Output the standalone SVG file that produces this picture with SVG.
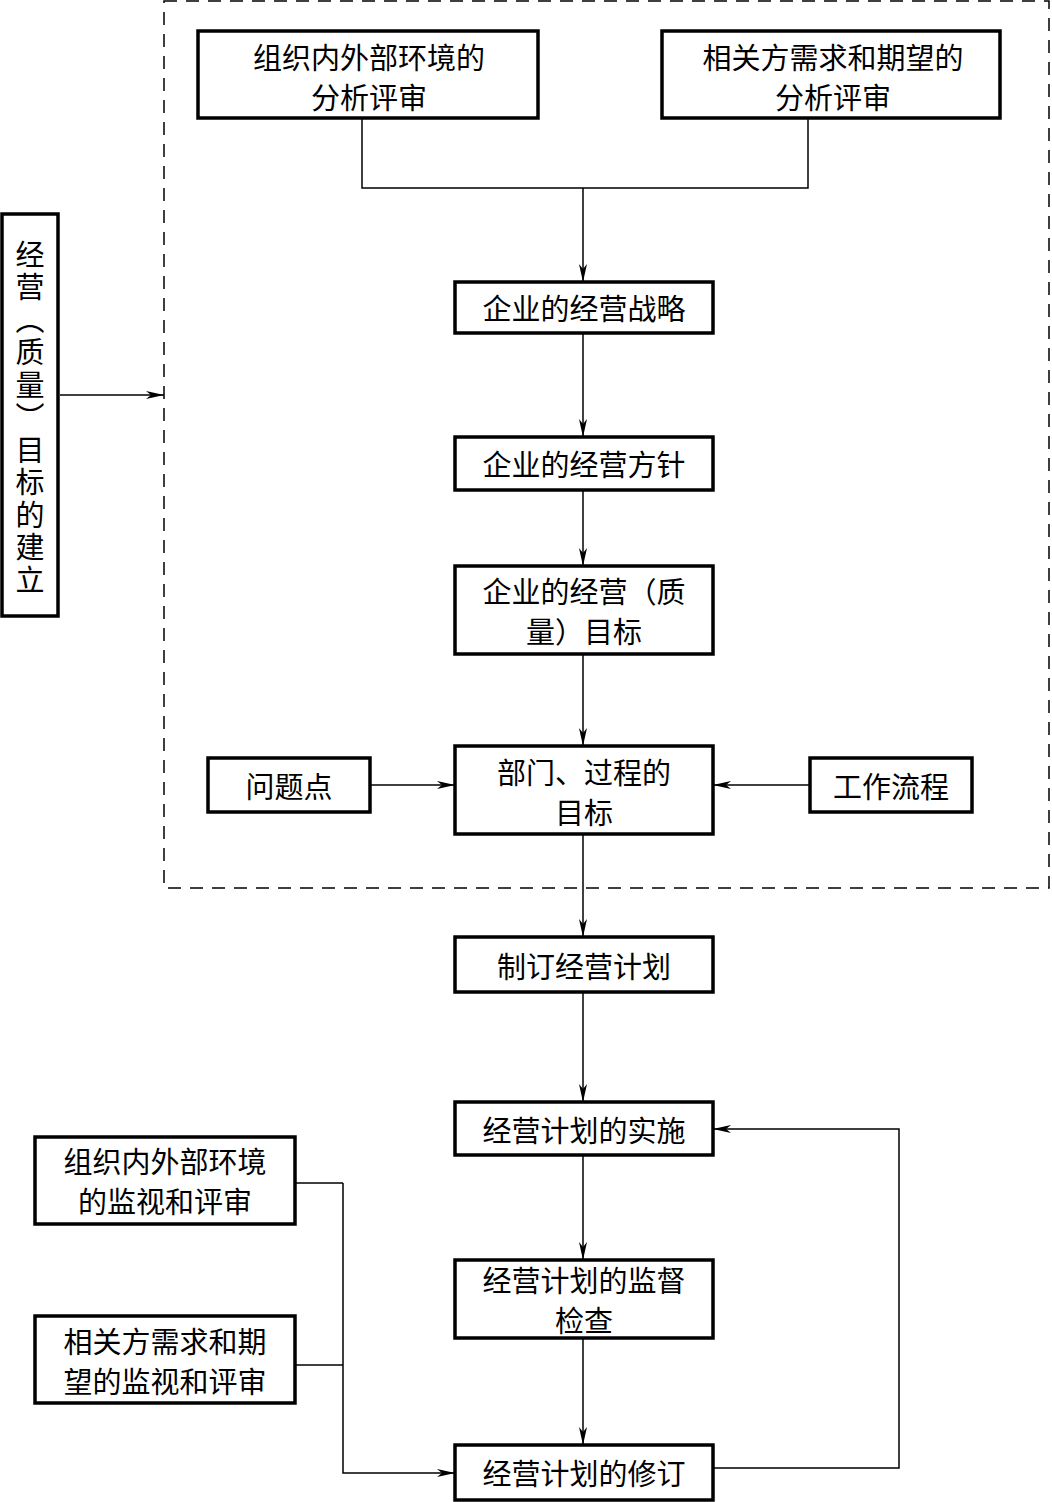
<svg xmlns="http://www.w3.org/2000/svg" width="1052" height="1502" viewBox="0 0 1052 1502">
<style>
.box{fill:#fff;stroke:#000;stroke-width:3.5}
.t{font-family:"Noto Sans CJK SC","Noto Sans CJK JP",sans-serif;font-size:29px;fill:#000;text-anchor:middle;dominant-baseline:central}
.ln{fill:none;stroke:#000;stroke-width:1.5}
.arr{marker-end:url(#ah)}
.dash{fill:none;stroke:#000;stroke-width:1.5;stroke-dasharray:13 9}
</style>
<defs>
<marker id="ah" markerUnits="userSpaceOnUse" markerWidth="20" markerHeight="10" refX="18" refY="5" orient="auto" viewBox="0 0 20 10">
<path d="M18,5 L0,1 L5,5 L0,9 Z" fill="#000"/>
</marker>
</defs>
<rect width="1052" height="1502" fill="#fff"/>
<rect class="dash" x="164" y="1" width="885" height="887"/>
<g id="connectors">
<path class="ln" d="M362,118 V188 H808 V118"/>
<path class="ln arr" d="M583,188 V282"/>
<path class="ln arr" d="M583,333 V437"/>
<path class="ln arr" d="M583,490 V566"/>
<path class="ln arr" d="M583,654 V746"/>
<path class="ln arr" d="M583,834 V937"/>
<path class="ln arr" d="M583,992 V1102"/>
<path class="ln arr" d="M583,1155 V1260"/>
<path class="ln arr" d="M583,1338 V1445"/>
<path class="ln arr" d="M370,785 H455"/>
<path class="ln arr" d="M810,785 H713"/>
<path class="ln arr" d="M60,395 H164"/>
<path class="ln" d="M295,1183 H343"/>
<path class="ln" d="M295,1365 H343"/>
<path class="ln arr" d="M343,1183 V1473 H455"/>
<path class="ln arr" d="M713,1468 H899 V1129 H713"/>
</g>
<g id="n-left">
<rect class="box" x="2" y="214" width="56" height="402"/>
<text class="t" x="30" y="240" style="writing-mode:vertical-rl;text-anchor:start;letter-spacing:3.5px">经营（质量）目标的建立</text>
</g>
<g id="n-env">
<rect class="box" x="198" y="31" width="340" height="87"/>
<text class="t" x="369" y="56">组织内外部环境的</text>
<text class="t" x="369" y="96">分析评审</text>
</g>
<g id="n-party">
<rect class="box" x="662" y="31" width="338" height="87"/>
<text class="t" x="833" y="56">相关方需求和期望的</text>
<text class="t" x="833" y="96">分析评审</text>
</g>
<g id="n-strategy">
<rect class="box" x="455" y="282" width="258" height="51"/>
<text class="t" x="584" y="307">企业的经营战略</text>
</g>
<g id="n-policy">
<rect class="box" x="455" y="437" width="258" height="53"/>
<text class="t" x="584" y="463">企业的经营方针</text>
</g>
<g id="n-goal">
<rect class="box" x="455" y="566" width="258" height="88"/>
<text class="t" x="584" y="590">企业的经营（质</text>
<text class="t" x="584" y="630">量）目标</text>
</g>
<g id="n-dept">
<rect class="box" x="455" y="746" width="258" height="88"/>
<text class="t" x="584" y="771">部门、过程的</text>
<text class="t" x="584" y="811">目标</text>
</g>
<g id="n-problem">
<rect class="box" x="208" y="758" width="162" height="54"/>
<text class="t" x="289" y="785">问题点</text>
</g>
<g id="n-flow">
<rect class="box" x="810" y="758" width="162" height="54"/>
<text class="t" x="891" y="785">工作流程</text>
</g>
<g id="n-plan">
<rect class="box" x="455" y="937" width="258" height="55"/>
<text class="t" x="584" y="965">制订经营计划</text>
</g>
<g id="n-impl">
<rect class="box" x="455" y="1102" width="258" height="53"/>
<text class="t" x="584" y="1129">经营计划的实施</text>
</g>
<g id="n-check">
<rect class="box" x="455" y="1260" width="258" height="78"/>
<text class="t" x="584" y="1279">经营计划的监督</text>
<text class="t" x="584" y="1319">检查</text>
</g>
<g id="n-revise">
<rect class="box" x="455" y="1445" width="258" height="55"/>
<text class="t" x="584" y="1472">经营计划的修订</text>
</g>
<g id="n-monitor-env">
<rect class="box" x="35" y="1137" width="260" height="87"/>
<text class="t" x="165" y="1160">组织内外部环境</text>
<text class="t" x="165" y="1200">的监视和评审</text>
</g>
<g id="n-monitor-party">
<rect class="box" x="35" y="1316" width="260" height="87"/>
<text class="t" x="165" y="1340">相关方需求和期</text>
<text class="t" x="165" y="1380">望的监视和评审</text>
</g>
</svg>
